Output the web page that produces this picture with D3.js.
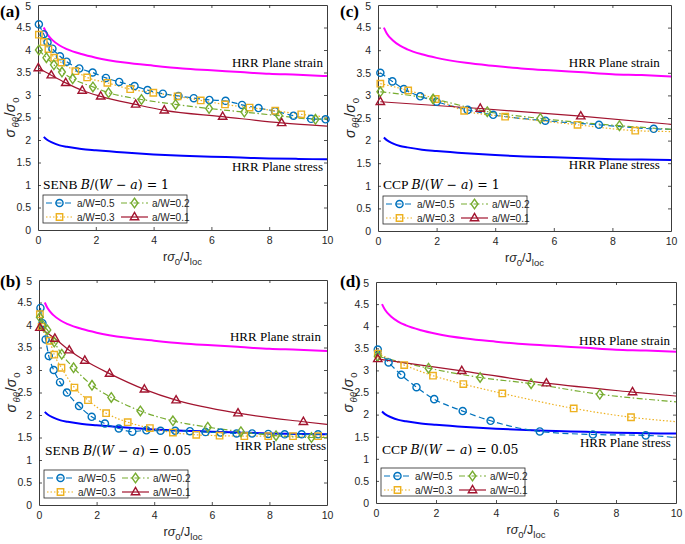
<!DOCTYPE html>
<html><head><meta charset="utf-8">
<script src="https://cdn.jsdelivr.net/npm/d3@7"></script>
<style>
body{margin:0;background:#fff;}
svg{display:block;}
</style></head>
<body>
<svg id="chart" width="685" height="544"></svg>
<script>
// ---------- data ----------
const xTicks = [0, 2, 4, 6, 8, 10];
const yTicks = [0, 0.5, 1, 1.5, 2, 2.5, 3, 3.5, 4, 4.5, 5];
const legendLabels = ["a/W=0.5", "a/W=0.2", "a/W=0.3", "a/W=0.1"];

const hrrX = [0.2, 0.3, 0.5, 0.75, 1, 1.5, 2, 3, 4, 5, 6, 7, 8, 9, 10];
const hrrStrain = [4.50, 4.37, 4.22, 4.10, 4.02, 3.91, 3.83, 3.72, 3.65, 3.59, 3.55, 3.51, 3.47, 3.45, 3.42];
const hrrStress = [2.07, 2.01, 1.94, 1.88, 1.85, 1.80, 1.77, 1.72, 1.68, 1.65, 1.63, 1.61, 1.59, 1.58, 1.57];

// (a) SENB B/(W-a)=1
const a_aw05 = [[0.03,4.57],[0.2,4.35],[0.33,4.17],[0.5,4.03],[0.76,3.86],[0.99,3.74],[1.43,3.59],[1.89,3.50],[2.35,3.38],[2.81,3.29],[3.34,3.20],[3.79,3.11],[4.32,3.03],[4.86,2.98],[5.39,2.93],[5.93,2.89],[6.49,2.87],[7.06,2.78],[7.63,2.71],[8.2,2.64],[8.84,2.54],[9.45,2.47],[9.95,2.46],[10,2.45]];
const a_aw03 = [[0.03,4.34],[0.2,4.18],[0.36,4.02],[0.56,3.83],[0.81,3.72],[1.29,3.53],[1.7,3.39],[2.4,3.27],[3.19,3.13],[3.99,3.05],[4.83,2.97],[5.63,2.88],[6.47,2.79],[7.32,2.72],[8.21,2.65],[9.11,2.57],[10,2.51]];
const a_aw02 = [[0.03,4.0],[0.29,3.83],[0.55,3.67],[0.83,3.51],[1.2,3.36],[1.9,3.18],[2.44,3.05],[3.58,2.90],[4.76,2.79],[5.92,2.70],[7.14,2.62],[8.34,2.54],[9.6,2.46],[10,2.47]];
const a_aw01 = [[0.01,3.6],[0.46,3.44],[0.96,3.27],[1.53,3.10],[2.17,2.97],[3.38,2.79],[4.37,2.66],[6.39,2.52],[8.43,2.38],[10,2.31]];

// (b) SENB B/(W-a)=0.05
const b_aw05 = [[0.05,4.38],[0.12,4.04],[0.23,3.68],[0.34,3.31],[0.51,3.0],[0.73,2.73],[0.97,2.50],[1.39,2.20],[1.83,1.96],[2.29,1.81],[2.77,1.70],[3.24,1.63],[3.73,1.66],[4.22,1.65],[4.73,1.65],[5.24,1.64],[5.78,1.62],[6.30,1.61],[6.86,1.59],[7.40,1.59],[7.96,1.58],[8.53,1.57],[9.12,1.57],[9.69,1.57],[10,1.57]];
const b_aw03 = [[0.03,4.24],[0.09,3.96],[0.37,3.65],[0.53,3.34],[0.78,3.05],[1.23,2.61],[1.70,2.33],[2.33,2.04],[3.08,1.84],[3.85,1.71],[4.65,1.61],[5.46,1.56],[6.27,1.54],[7.13,1.53],[7.96,1.53],[8.82,1.53],[9.69,1.53],[10,1.53]];
const b_aw02 = [[0.03,4.17],[0.13,3.99],[0.29,3.89],[0.53,3.62],[0.79,3.35],[1.20,3.05],[1.84,2.66],[2.51,2.39],[3.52,2.09],[4.65,1.87],[5.86,1.73],[7.01,1.63],[8.23,1.54],[9.46,1.50],[10,1.50]];
const b_aw01 = [[0.03,3.94],[0.55,3.70],[1.05,3.44],[1.59,3.21],[2.45,2.92],[3.66,2.57],[4.76,2.33],[6.91,2.04],[9.18,1.85],[10,1.79]];

// (c) CCP B/(W-a)=1
const c_aw05 = [[0.08,3.50],[0.49,3.31],[0.88,3.14],[1.44,2.98],[2.0,2.86],[3.06,2.68],[3.93,2.57],[5.71,2.44],[7.54,2.35],[9.41,2.26],[10,2.25]];
const c_aw03 = [[0.08,3.26],[1.03,3.11],[1.97,2.92],[2.94,2.66],[4.34,2.53],[6.81,2.35],[8.78,2.22],[10,2.20]];
const c_aw02 = [[0.08,3.08],[1.88,2.92],[3.73,2.64],[5.54,2.49],[8.24,2.33],[10,2.25]];
const c_aw01 = [[0.08,2.86],[3.49,2.71],[6.92,2.54],[10,2.36]];

// (d) CCP B/(W-a)=0.05
const d_aw05 = [[0.06,3.47],[0.42,3.18],[0.84,2.90],[1.35,2.62],[1.94,2.35],[2.89,2.08],[3.82,1.86],[5.46,1.62],[7.23,1.55],[8.99,1.53],[10,1.48]];
const d_aw03 = [[0.06,3.38],[0.94,3.12],[1.90,2.88],[2.91,2.69],[4.21,2.48],[6.59,2.14],[8.5,1.94],[10,1.84]];
const d_aw02 = [[0.06,3.32],[1.75,3.05],[3.47,2.84],[5.17,2.70],[7.46,2.46],[10,2.29]];
const d_aw01 = [[0.06,3.26],[2.86,2.99],[5.68,2.71],[8.55,2.51],[10,2.42]];

// ---------- styles ----------
const seriesStyle = {
  aw05: {color: "#0072BD", dash: "6,3.5", marker: "circle"},
  aw02: {color: "#77AC30", dash: "6,2.5,1.5,2.5", marker: "diamond"},
  aw03: {color: "#EDB120", dash: "1.5,2", marker: "square"},
  aw01: {color: "#A2142F", dash: null, marker: "triangle"}
};

const panels = [
  {tag: "(a)", tagX: 0, tagY: 17, x0: 38, x1: 327, y0: 5, y1: 230, spec: "SENB", ratio: "1",
   series: {aw05: a_aw05, aw02: a_aw02, aw03: a_aw03, aw01: a_aw01},
   strainAt: [9.86, 3.63], stressAt: [9.86, 1.31], caseAt: [0.17, 0.91]},
  {tag: "(b)", tagX: 0, tagY: 287, x0: 39, x1: 327, y0: 280, y1: 505, spec: "SENB", ratio: "0.05",
   series: {aw05: b_aw05, aw02: b_aw02, aw03: b_aw03, aw01: b_aw01},
   strainAt: [9.79, 3.64], stressAt: [9.97, 1.22], caseAt: [0.21, 1.11]},
  {tag: "(c)", tagX: 340, tagY: 17, x0: 378, x1: 671, y0: 5, y1: 231, spec: "CCP", ratio: "1",
   series: {aw05: c_aw05, aw02: c_aw02, aw03: c_aw03, aw01: c_aw01},
   strainAt: [9.62, 3.63], stressAt: [9.62, 1.37], caseAt: [0.17, 0.93]},
  {tag: "(d)", tagX: 340, tagY: 287, x0: 376, x1: 676, y0: 282, y1: 503, spec: "CCP", ratio: "0.05",
   series: {aw05: d_aw05, aw02: d_aw02, aw03: d_aw03, aw01: d_aw01},
   strainAt: [9.8, 3.57], stressAt: [9.83, 1.27], caseAt: [0.2, 1.11]}
];

const svg = d3.select("#chart");
const axisColor = "#262626";
const sansFont = "'Liberation Sans', Arial, Helvetica, sans-serif";
const serifFont = "'Liberation Serif', 'Times New Roman', serif";
const mathFont = "'DejaVu Serif', 'Liberation Serif', serif";

function markerPath(type) {
  if (type === "circle") return d3.symbol().type(d3.symbolCircle).size(40)();
  if (type === "square") return "M-3.2,-3.2H3.2V3.2H-3.2Z";
  if (type === "diamond") return "M0,-4.8L3.4,0L0,4.8L-3.4,0Z";
  return "M0,-4.6L4.2,2.7L-4.2,2.7Z";
}

panels.forEach((p, pi) => {
  const x = d3.scaleLinear().domain([0, 10]).range([p.x0, p.x1]);
  const y = d3.scaleLinear().domain([0, 5]).range([p.y1, p.y0]);
  const g = svg.append("g");

  const clipId = "clip" + pi;
  svg.append("clipPath").attr("id", clipId).append("rect")
    .attr("x", p.x0).attr("y", p.y0).attr("width", p.x1 - p.x0).attr("height", p.y1 - p.y0);

  // axes (box with inward ticks)
  const tickLen = 3;
  const axB = d3.axisBottom(x).tickValues(xTicks).tickSizeInner(-tickLen).tickSizeOuter(0).tickPadding(7).tickFormat(d3.format("d"));
  const axT = d3.axisTop(x).tickValues(xTicks).tickSizeInner(-tickLen).tickSizeOuter(0).tickFormat("");
  const axL = d3.axisLeft(y).tickValues(yTicks).tickSizeInner(-tickLen).tickSizeOuter(0).tickPadding(7).tickFormat(d => d3.format("")(d));
  const axR = d3.axisRight(y).tickValues(yTicks).tickSizeInner(-tickLen).tickSizeOuter(0).tickFormat("");

  const gB = g.append("g").attr("transform", `translate(0,${p.y1})`).call(axB);
  const gT = g.append("g").attr("transform", `translate(0,${p.y0})`).call(axT);
  const gL = g.append("g").attr("transform", `translate(${p.x0},0)`).call(axL);
  const gR = g.append("g").attr("transform", `translate(${p.x1},0)`).call(axR);
  [gB, gT, gL, gR].forEach(a => {
    a.selectAll("path.domain").attr("stroke", axisColor).attr("stroke-width", 0.9);
    a.selectAll(".tick line").attr("stroke", axisColor).attr("stroke-width", 0.8);
    a.selectAll(".tick text").attr("fill", axisColor).style("font-family", sansFont).style("font-size", "10.5px");
  });
  gB.selectAll(".tick line").filter(d => d === 0 || d === 10).remove();
  gT.selectAll(".tick line").filter(d => d === 0 || d === 10).remove();
  gL.selectAll(".tick line").filter(d => d === 0 || d === 5).remove();
  gR.selectAll(".tick line").filter(d => d === 0 || d === 5).remove();
  // keep the top label inside the picture
  gL.selectAll(".tick text").filter(d => d === 5).attr("dy", "0.45em");

  const plot = g.append("g").attr("clip-path", `url(#${clipId})`);

  // HRR reference lines
  const lineGen = d3.line().x(d => x(d[0])).y(d => y(d[1])).curve(d3.curveMonotoneX);
  plot.append("path").datum(hrrX.map((v, i) => [v, hrrStrain[i]]))
    .attr("d", lineGen).attr("fill", "none").attr("stroke", "#FF00FF").attr("stroke-width", 2);
  plot.append("path").datum(hrrX.map((v, i) => [v, hrrStress[i]]))
    .attr("d", lineGen).attr("fill", "none").attr("stroke", "#0000FF").attr("stroke-width", 2);

  // FE series
  const order = ["aw05", "aw03", "aw02", "aw01"];
  order.forEach(key => {
    const st = seriesStyle[key];
    plot.append("path").datum(p.series[key]).attr("d", lineGen)
      .attr("fill", "none").attr("stroke", st.color).attr("stroke-width", 1.2)
      .attr("stroke-dasharray", st.dash);
  });
  order.forEach(key => {
    const st = seriesStyle[key];
    const data = p.series[key].filter(d => d[0] < 10);
    g.append("g").selectAll("path").data(data).join("path")
      .attr("d", markerPath(st.marker))
      .attr("transform", d => `translate(${x(d[0])},${y(d[1])})`)
      .attr("fill", "none").attr("stroke", st.color).attr("stroke-width", 1.4);
  });

  // annotations
  g.append("text").attr("x", x(p.strainAt[0])).attr("y", y(p.strainAt[1]))
    .attr("text-anchor", "end").style("font-family", serifFont).style("font-size", "13px")
    .text("HRR Plane strain");
  g.append("text").attr("x", x(p.stressAt[0])).attr("y", y(p.stressAt[1]))
    .attr("text-anchor", "end").style("font-family", serifFont).style("font-size", "13px")
    .text("HRR Plane stress");

  const ct = g.append("text").attr("x", x(p.caseAt[0])).attr("y", y(p.caseAt[1]))
    .style("font-family", serifFont).style("font-size", "13.5px");
  ct.append("tspan").text(p.spec + " ");
  const m = (t, it) => ct.append("tspan").style("font-family", mathFont).style("font-size", "12.5px")
    .style("font-style", it ? "italic" : "normal").text(t);
  m("B", true); m("/(", false); m("W", true); m(" − ", false); m("a", true); m(") = " + p.ratio, false);

  // panel tag
  g.append("text").attr("x", p.tagX).attr("y", p.tagY)
    .style("font-family", serifFont).style("font-weight", "bold").style("font-size", "17px")
    .text(p.tag);

  // x label
  const xl = g.append("text").attr("x", (p.x0 + p.x1) / 2).attr("y", p.y1 + 31)
    .attr("text-anchor", "middle").style("font-family", sansFont).style("font-size", "12.5px").attr("fill", axisColor);
  xl.append("tspan").text("r");
  xl.append("tspan").style("font-style", "italic").text("σ");
  xl.append("tspan").attr("dy", 4).style("font-size", "9.5px").text("0");
  xl.append("tspan").attr("dy", -4).text("/J");
  xl.append("tspan").attr("dy", 4).style("font-size", "9.5px").text("loc");

  // y label
  const yl = g.append("text")
    .attr("transform", `translate(${p.x0 - 23},${(p.y0 + p.y1) / 2}) rotate(-90)`)
    .attr("text-anchor", "middle").style("font-family", sansFont).style("font-size", "14px").attr("fill", axisColor);
  yl.append("tspan").style("font-style", "italic").text("σ");
  yl.append("tspan").attr("dy", 4).attr("dx", 1.5).style("font-size", "9.5px").style("font-style", "italic").text("θθ");
  yl.append("tspan").attr("dy", -4).attr("dx", 1).text("/");
  yl.append("tspan").style("font-style", "italic").text("σ");
  yl.append("tspan").attr("dy", 4).attr("dx", 1).style("font-size", "9.5px").text("0");

  // legend
  const lw = 144, lh = 28;
  const lx = p.x0 + 5, ly = p.y1 - 7 - lh;
  const lg = g.append("g").attr("transform", `translate(${lx},${ly})`);
  lg.append("rect").attr("width", lw).attr("height", lh).attr("fill", "#fff")
    .attr("stroke", axisColor).attr("stroke-width", 0.8);
  const legendKeys = ["aw05", "aw02", "aw03", "aw01"];
  legendKeys.forEach((key, i) => {
    const st = seriesStyle[key];
    const col = i % 2, row = Math.floor(i / 2);
    const ex = 3 + col * 75, ey = 8 + row * 14;
    lg.append("line").attr("x1", ex).attr("x2", ex + 27).attr("y1", ey).attr("y2", ey)
      .attr("stroke", st.color).attr("stroke-width", 1.2).attr("stroke-dasharray", st.dash);
    lg.append("path").attr("d", markerPath(st.marker)).attr("transform", `translate(${ex + 13.5},${ey})`)
      .attr("fill", "none").attr("stroke", st.color).attr("stroke-width", 1.4);
    lg.append("text").attr("x", ex + 31).attr("y", ey).attr("dy", "0.35em")
      .style("font-family", sansFont).style("font-size", "10px").attr("fill", axisColor)
      .text(legendLabels[i]);
  });
});
</script>
</body></html>
